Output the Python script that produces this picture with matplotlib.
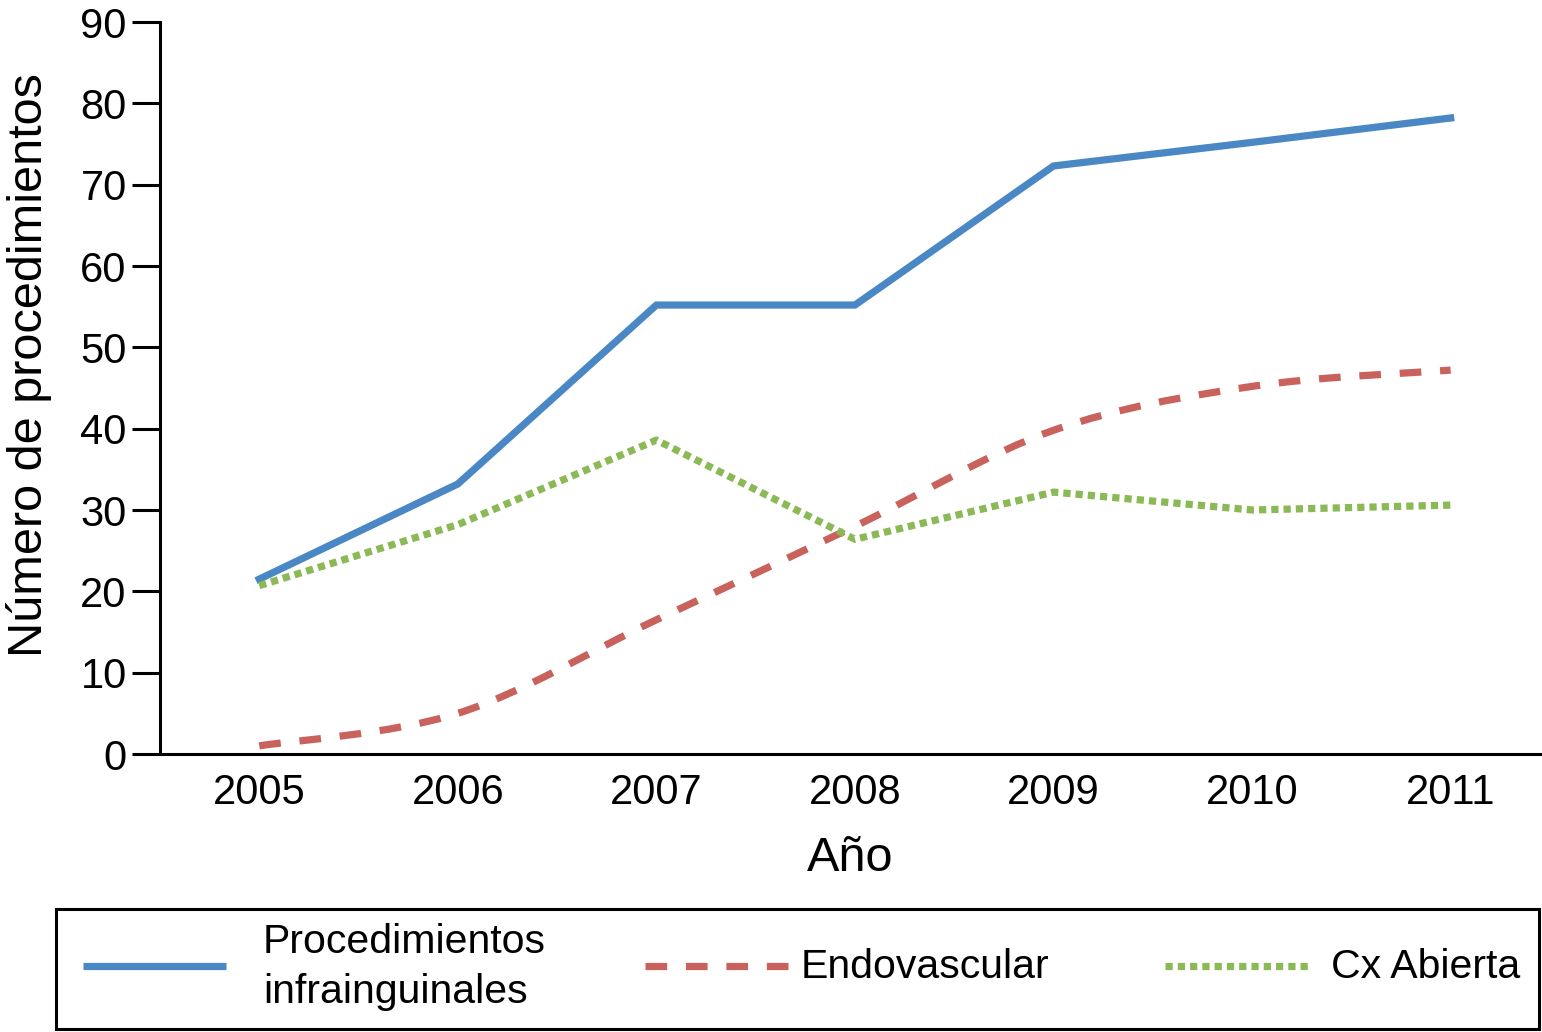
import numpy as np
import matplotlib
matplotlib.use("Agg")
import matplotlib.pyplot as plt
from matplotlib.path import Path
from matplotlib.patches import PathPatch, Rectangle

plt.rcParams['font.family'] = ['Liberation Sans', 'DejaVu Sans']

# data
years = [2005, 2006, 2007, 2008, 2009, 2010, 2011]
infrainguinales = [21.5, 33.2, 55.2, 55.2, 72.3, 75.2, 78.2]
endovascular = [1.0, 5.0, 16.5, 28.0, 39.8, 45.2, 47.2]
cx_abierta = [20.7, 28.2, 38.6, 26.4, 32.2, 30.0, 30.6]
labels = ['Procedimientos\ninfrainguinales', 'Endovascular', 'Cx Abierta']

blue = '#4A87C5'
red = '#C9625C'
green = '#8BB955'
dash = (0, (3, 2.6))
dots = (0, (1, 0.7))

fig = plt.figure(figsize=(15.42, 10.32), dpi=100)
ax = fig.add_axes([160/1542, 1 - 754/1032, 1380/1542, 732/1032])


def smooth_path(x, y):
    # Catmull-Rom style bezier through the data points (drawing only)
    x = np.asarray(x, float)
    y = np.asarray(y, float)
    verts = [(x[0], y[0])]
    codes = [Path.MOVETO]
    n = len(x)
    for i in range(n - 1):
        p0 = (x[max(i-1, 0)], y[max(i-1, 0)])
        p1 = (x[i], y[i])
        p2 = (x[i+1], y[i+1])
        p3 = (x[min(i+2, n-1)], y[min(i+2, n-1)])
        c1 = (p1[0] + (p2[0]-p0[0])/6, p1[1] + (p2[1]-p0[1])/6)
        c2 = (p2[0] - (p3[0]-p1[0])/6, p2[1] - (p3[1]-p1[1])/6)
        verts += [c1, c2, p2]
        codes += [Path.CURVE4] * 3
    return Path(verts, codes)


ax.plot(years, infrainguinales, color=blue, lw=5.2, solid_joinstyle='miter')
ax.add_patch(PathPatch(smooth_path(years, endovascular), fill=False,
                       edgecolor=red, lw=5.2, linestyle=dash, capstyle='butt'))
ax.plot(years, cx_abierta, color=green, lw=5.2, linestyle=dots,
        dash_capstyle='butt')

ax.set_xlim(2004.5, 2011.45)
ax.set_ylim(0, 90)
ax.set_yticks(range(0, 91, 10))
ax.set_xticks(years)
ax.tick_params(axis='y', length=20, width=2.2, labelsize=30, pad=4, direction='out')
ax.tick_params(axis='x', length=0, labelsize=30, pad=14)
for s in ['top', 'right']:
    ax.spines[s].set_visible(False)
ax.spines['left'].set_linewidth(2.2)
ax.spines['bottom'].set_linewidth(2.2)

ax.set_xlabel('Año', fontsize=35, va='top')
ax.xaxis.set_label_coords(0.5, -0.112)
ax.set_ylabel('Número de procedimientos', fontsize=35)
ax.yaxis.set_label_coords(-0.078, 0.531)

# legend box drawn in pixel coordinates
lax = fig.add_axes([0, 0, 1, 1], facecolor='none')
lax.set_xlim(0, 1542)
lax.set_ylim(1032, 0)
lax.axis('off')
lax.add_patch(Rectangle((56, 909), 1483, 120, fill=False, edgecolor='black', lw=2.2))
ly = 966
lax.plot([83, 226], [ly, ly], color=blue, lw=5.2, solid_capstyle='butt')
lax.plot([645, 796], [ly, ly], color=red, lw=5.2, linestyle=dash, dash_capstyle='butt')
lax.plot([1165, 1311], [ly, ly], color=green, lw=5.2, linestyle=dots, dash_capstyle='butt')
text_x = [263, 801, 1331]
for tx, lab in zip(text_x, labels):
    lax.text(tx, ly + 1, lab, fontsize=29.5, va='center', ha='left', linespacing=1.4)

fig.savefig('out.png', dpi=100)
